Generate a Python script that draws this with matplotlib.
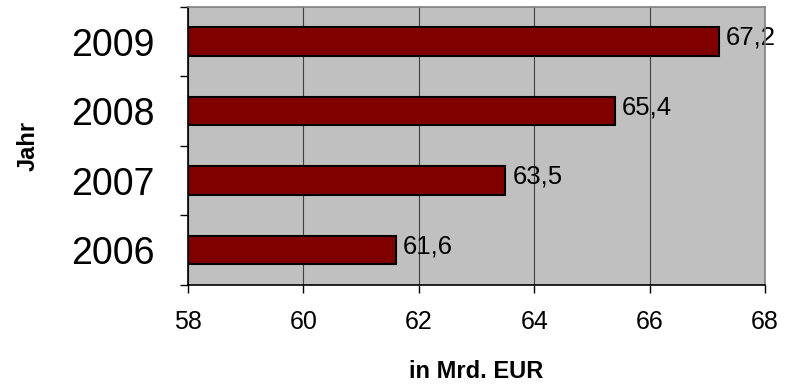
import matplotlib
matplotlib.use("Agg")
from matplotlib import pyplot as plt

years = ["2006", "2007", "2008", "2009"]
values = [61.6, 63.5, 65.4, 67.2]
labels = ["61,6", "63,5", "65,4", "67,2"]
xticks = [58, 60, 62, 64, 66, 68]

plt.rcParams['font.family'] = ['Liberation Sans', 'DejaVu Sans']

fig = plt.figure(figsize=(7.85, 3.87), dpi=100)
ax = fig.add_axes([0.2395, 0.2636, 0.735, 0.7184])
ax.set_facecolor('#C0C0C0')

pos = list(range(len(years)))
ax.barh(pos, [v - 58 for v in values], left=58, height=0.41,
        color='#800000', edgecolor='black', linewidth=1.5, zorder=3)

for p, v, t in zip(pos, values, labels):
    ax.annotate(t, (v, p), xytext=(5, 3), textcoords='offset points',
                va='center', ha='left', fontsize=18.5, zorder=4)

ax.set_xlim(58, 68)
ax.set_ylim(-0.5, 3.5)
ax.set_xticks(xticks)
ax.set_xticklabels([str(x) for x in xticks], fontsize=18)
ax.xaxis.grid(True, color='#404040', linewidth=0.8, zorder=1)

# category labels in the middle, ticks on the boundaries
ax.set_yticks([p - 0.5 for p in pos] + [3.5])
ax.set_yticklabels([])
ax.set_yticks(pos, minor=True)
ax.set_yticklabels(years, minor=True, fontsize=27)
ax.tick_params(axis='y', which='minor', length=0, pad=24)
ax.tick_params(axis='y', which='major', length=6, width=1)
ax.tick_params(axis='x', length=6, width=1, pad=12)

ax.spines['left'].set_color('black')
ax.spines['bottom'].set_color('black')
ax.spines['top'].set_color('#808080')
ax.spines['right'].set_color('#808080')
for s in ax.spines.values():
    s.set_linewidth(1.2)
    s.set_zorder(5)

ax.set_xlabel("in Mrd. EUR", fontsize=17, fontweight='bold', labelpad=19)
ax.set_ylabel("Jahr", fontsize=17, fontweight='bold', labelpad=23)

fig.savefig("out.png", dpi=100)
